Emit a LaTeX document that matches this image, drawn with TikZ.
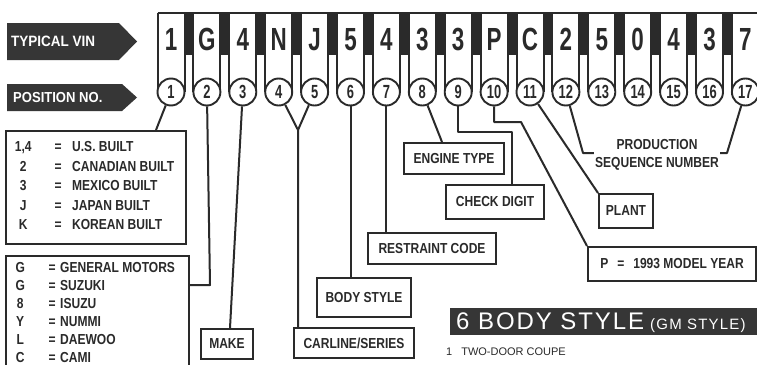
\documentclass[tikz,border=0pt]{standalone}
\usepackage{fontspec}
\setmainfont{Liberation Sans}
\newfontfamily\lsc[FakeStretch=0.83]{Liberation Sans}
\newfontfamily\lvin[FakeStretch=0.7]{Liberation Sans}
\newfontfamily\lnum[FakeStretch=0.68]{Liberation Sans}
\newfontfamily\ltag[FakeStretch=0.9]{Liberation Sans}
\newfontfamily\lhead[LetterSpace=8]{Liberation Sans}
\definecolor{ink}{HTML}{2A2A2A}
\definecolor{darkfill}{HTML}{363636}
\newcommand\rowA[2]{\makebox[30pt][c]{#1}\hspace{8pt}\makebox[24pt][c]{=}\hspace{2pt}#2}
\newcommand\rowB[2]{\makebox[24pt][c]{#1}\hspace{14pt}\makebox[12pt][c]{=}\hspace{2pt}#2}
\begin{document}
\begin{tikzpicture}[x=1pt,y=-1pt,
  conn/.style={draw=ink, line width=2pt, line join=round},
  lbox/.style={draw=ink, line width=2pt, fill=white, inner sep=0pt, anchor=north west, text=ink,
    font=\lsc\bfseries\fontsize{14.5}{17}\selectfont},
  circ/.style={circle, draw=ink, line width=1.9pt, fill=white, inner sep=0pt, minimum size=27pt, text=ink,
    font=\lnum\bfseries\fontsize{19}{19}\selectfont},
  vinch/.style={text=ink, font=\lvin\bfseries\fontsize{32}{32}\selectfont, inner sep=0pt},
  tagtxt/.style={text=white, font=\ltag\bfseries\fontsize{15}{15}\selectfont, inner sep=0pt, anchor=west},
  listtxt/.style={text=ink, inner sep=0pt, anchor=north west, align=left}]
\useasboundingbox (0,0) rectangle (757,364);
\fill[white] (0,0) rectangle (757,364);
\clip (0,0) rectangle (757,364);

% tags
\fill[darkfill] (7,23) -- (119,23) -- (137,41.5) -- (119,60) -- (7,60) -- cycle;
\node[tagtxt] (tvin) at (11,41.5) {TYPICAL VIN};
\fill[darkfill] (7,84) -- (122,84) -- (137,97.5) -- (122,111) -- (7,111) -- cycle;
\node[tagtxt, font=\ltag\bfseries\fontsize{14.5}{14.5}\selectfont] (tpos) at (13,97.5) {POSITION NO.};

% VIN cells
\foreach \i in {1,...,16}{
  \pgfmathsetmacro\xa{171+(\i-1)*35.9+13.5}
  \pgfmathsetmacro\xb{171+\i*35.9-13.5}
  \fill[ink] (\xa,13) rectangle (\xb,55);
}
\draw[conn] (157.5,13) -- (760,13);
\foreach \i/\ch in {1/1,2/G,3/4,4/N,5/J,6/5,7/4,8/3,9/3,10/P,11/C,12/2,13/5,14/0,15/4,16/3,17/7}{
  \pgfmathsetmacro\cx{171+(\i-1)*35.9}
  \draw[conn] (\cx-13.5,92) -- (\cx-13.5,13);
  \draw[conn] (\cx+13.5,13) -- (\cx+13.5,92);
  \node[vinch] (v\i) at (\cx,39.5) {\ch};
  \node[circ] (p\i) at (\cx,92) {\i};
}

% boxes
\node[lbox, minimum width=180pt, minimum height=113pt] (box1) at (5,130) {};
\node[listtxt, font=\lsc\bfseries\fontsize{14.5}{19.5}\selectfont] (list1) at (8,141.5)
  {\rowA{1,4}{U.S. BUILT}\\\rowA{2}{CANADIAN BUILT}\\\rowA{3}{MEXICO BUILT}\\\rowA{J}{JAPAN BUILT}\\\rowA{K}{KOREAN BUILT}};
\node[lbox, minimum width=183pt, minimum height=125pt] (box2) at (5,255) {};
\node[listtxt, font=\lsc\bfseries\fontsize{14.5}{18}\selectfont] (list2) at (8,261.8)
  {\rowB{G}{GENERAL MOTORS}\\\rowB{G}{SUZUKI}\\\rowB{8}{ISUZU}\\\rowB{Y}{NUMMI}\\\rowB{L}{DAEWOO}\\\rowB{C}{CAMI}};
\node[lbox, minimum width=52pt, minimum height=30pt] (make) at (200,328) {MAKE};
\node[lbox, minimum width=120pt, minimum height=30pt] (carline) at (293,327) {CARLINE/SERIES};
\node[lbox, minimum width=94pt, minimum height=39pt] (body) at (316,277) {BODY STYLE};
\node[lbox, minimum width=128pt, minimum height=31pt] (restraint) at (367,232) {RESTRAINT CODE};
\node[lbox, minimum width=100pt, minimum height=31pt] (engine) at (403,142) {ENGINE TYPE};
\node[lbox, minimum width=98pt, minimum height=34pt] (check) at (445,184) {CHECK DIGIT};
\node[lbox, minimum width=54pt, minimum height=34pt] (plant) at (598,193) {PLANT};
\node[lbox, minimum width=168pt, minimum height=34pt] (year) at (587,246) {P\hspace{9pt}=\hspace{9pt}1993 MODEL YEAR};
\node[text=ink, inner sep=1pt, align=center, font=\lsc\bfseries\fontsize{14.5}{18}\selectfont] (prod) at (657,155)
  {PRODUCTION\\SEQUENCE NUMBER};

% connectors
\coordinate (k1) at (156,130);
\draw[conn] (p1) -- (k1);
\coordinate (k2) at (210,285);
\draw[conn] (p2) -- (k2) -- (k2 -| box2.east);
\coordinate (k3) at (230,328);
\draw[conn] (p3) -- (k3);
\coordinate (v45) at (298,130);
\draw[conn] (p4) -- (v45) -- (v45 |- carline.north);
\draw[conn] (p5) -- (v45);
\draw[conn] (p6) -- (p6 |- body.north);
\draw[conn] (p7) -- (p7 |- restraint.north);
\coordinate (k8) at (442,142);
\draw[conn] (p8) -- (k8);
\coordinate (k9) at (512,132);
\draw[conn] (p9) -- (p9 |- k9) -- (k9) -- (k9 |- check.north);
\coordinate (k10) at (521,122);
\draw[conn] (p10) -- (p10 |- k10) -- (k10) -- (year.north west);
\draw[conn] (p11) -- (plant.north west);
\coordinate (k12) at (583,153);
\draw[conn] (p12) -- (k12) -- (k12 -| prod.west);
\coordinate (k17) at (727,153);
\draw[conn] (p17) -- (k17) -- (k17 -| prod.east);

% body style header
\fill[darkfill] (450,308) rectangle (760,335);
\node[anchor=base west, inner sep=0pt, text=white] (head) at (456,329.5)
  {{\lhead\fontsize{24}{24}\selectfont 6 BODY STYLE}\hspace{6pt}{\lhead\fontsize{15}{15}\selectfont (GM STYLE)}};
\node[anchor=base west, inner sep=0pt, text=ink, font=\fontsize{11}{11}\selectfont] (row1) at (446,355)
  {1\hspace{9pt}TWO-DOOR COUPE};
\end{tikzpicture}
\end{document}
